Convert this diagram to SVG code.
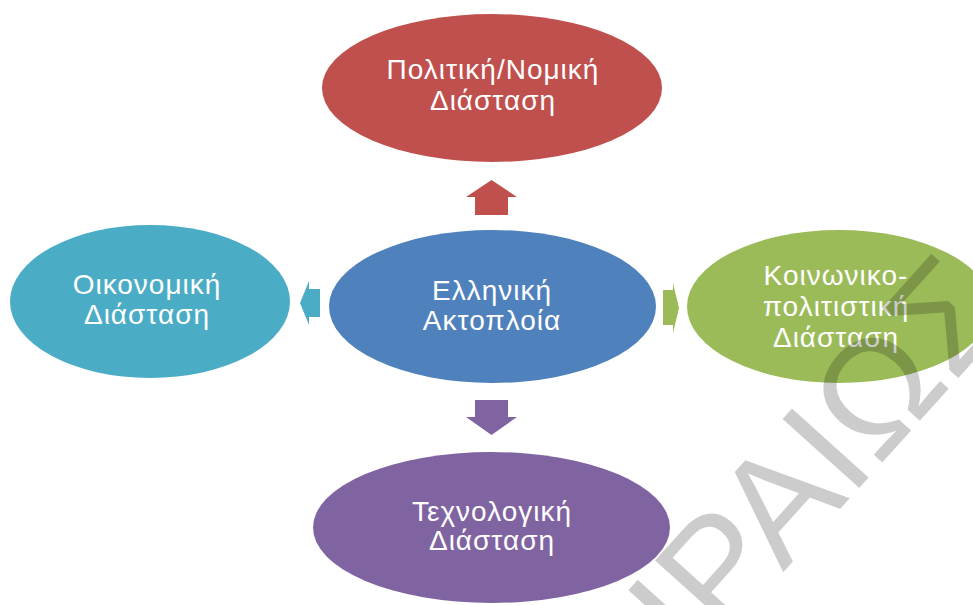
<svg xmlns="http://www.w3.org/2000/svg" width="973" height="605" viewBox="0 0 973 605">
<style>
.lbl{font-family:"Liberation Sans",Arial,sans-serif;font-size:28px;fill:#ffffff;text-anchor:middle;letter-spacing:1px}
.wm{font-family:"Liberation Sans",Arial,sans-serif;font-size:150px;fill:#000000;fill-opacity:0.2}
</style>
<rect width="973" height="605" fill="#ffffff"/>
<g id="connectors">
<path d="M475,215 V197 H466 L491.5,180 L517,197 H508 V215 Z" fill="#C0504D"/>
<path d="M475,400 V417 H466 L491.5,435 L517,417 H508 V400 Z" fill="#8064A2"/>
<path d="M320,289 H309 V281 L300,303 L309,325 V317 H320 Z" fill="#4BACC6"/>
<path d="M663,290 H673 V283 L679,308 L673,333 V325 H663 Z" fill="#9BBB59"/>
</g>
<g id="node-top">
<ellipse cx="492" cy="88" rx="170" ry="74" fill="#C0504D"/>
<text class="lbl" x="493" y="79">Πολιτική/Νομική</text>
<text class="lbl" x="493" y="110">Διάσταση</text>
</g>
<g id="node-center">
<ellipse cx="492.5" cy="306.5" rx="163.5" ry="76.5" fill="#4F81BD"/>
<text class="lbl" x="492" y="300">Ελληνική</text>
<text class="lbl" x="492" y="330">Ακτοπλοία</text>
</g>
<g id="node-left">
<ellipse cx="150" cy="301.5" rx="140" ry="76.5" fill="#4BACC6"/>
<text class="lbl" x="147" y="294">Οικονομική</text>
<text class="lbl" x="147" y="324">Διάσταση</text>
</g>
<g id="node-right">
<ellipse cx="839" cy="306.5" rx="152" ry="76.5" fill="#9BBB59"/>
<text class="lbl" x="836" y="285">Κοινωνικο-</text>
<text class="lbl" x="836" y="316">πολιτιστική</text>
<text class="lbl" x="836" y="347">Διάσταση</text>
</g>
<g id="node-bottom">
<ellipse cx="491.5" cy="527.5" rx="178.5" ry="75.5" fill="#8064A2"/>
<text class="lbl" x="492" y="521">Τεχνολογική</text>
<text class="lbl" x="492" y="550">Διάσταση</text>
</g>
<text class="wm" transform="translate(1015,315) rotate(-48)" text-anchor="end">ΠΕΙΡΑΙΩΣ</text>
</svg>
